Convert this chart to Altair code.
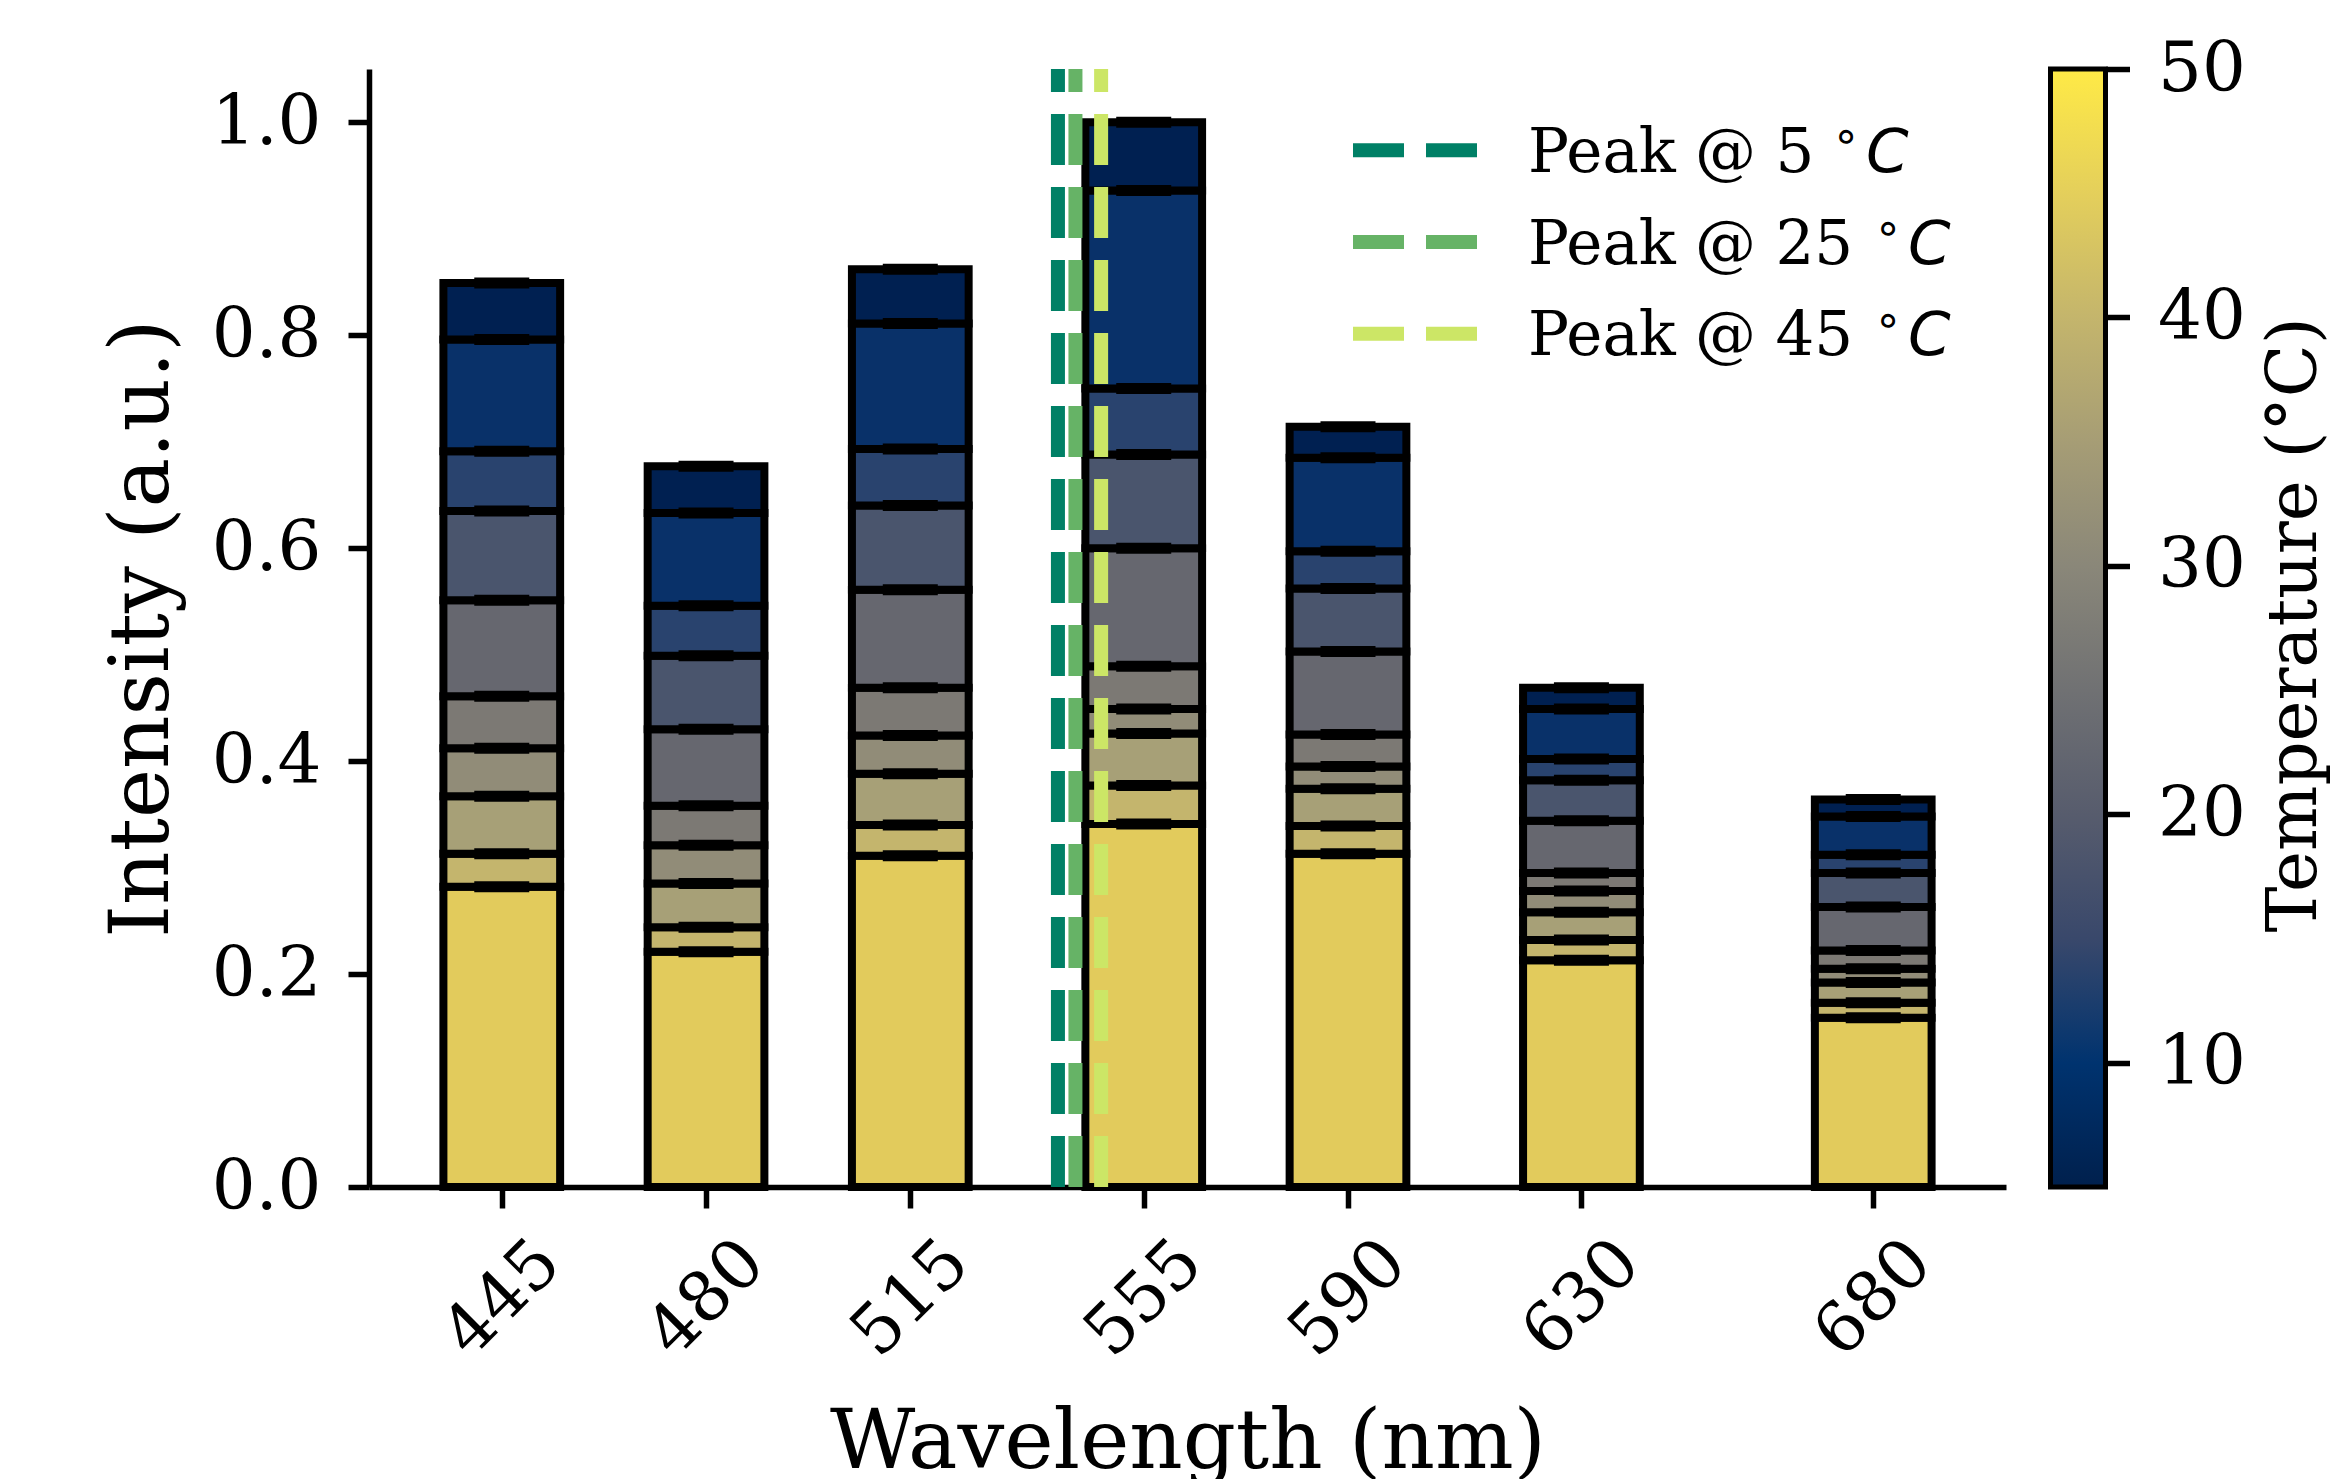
import altair as alt
import pandas as pd

# ---------------- data ----------------
wavelengths = [445, 480, 515, 555, 590, 630, 680]
# stacking order bottom -> top
temperatures = [45.0, 40.6, 36.1, 31.7, 27.2, 22.8, 18.3, 13.9, 9.4, 5.0]

intensity_445 = [0.282, 0.031, 0.054, 0.045, 0.049, 0.090, 0.084, 0.056, 0.105, 0.053]
intensity_480 = [0.221, 0.023, 0.041, 0.036, 0.037, 0.072, 0.069, 0.047, 0.087, 0.044]
intensity_515 = [0.311, 0.029, 0.048, 0.036, 0.045, 0.092, 0.079, 0.053, 0.118, 0.051]
intensity_555 = [0.341, 0.036, 0.049, 0.023, 0.040, 0.111, 0.088, 0.062, 0.186, 0.064]
intensity_590 = [0.313, 0.026, 0.035, 0.021, 0.030, 0.078, 0.059, 0.035, 0.088, 0.029]
intensity_630 = [0.213, 0.019, 0.026, 0.020, 0.017, 0.049, 0.038, 0.020, 0.047, 0.020]
intensity_680 = [0.159, 0.014, 0.019, 0.013, 0.017, 0.041, 0.032, 0.017, 0.036, 0.016]

peak_temps = [5, 25, 45]
peak_wavelengths = [540.3, 543.3, 547.7]
peak_colors = ["#008066", "#66b366", "#cce666"]

y_ticks = [0.0, 0.2, 0.4, 0.6, 0.8, 1.0]
cbar_ticks = [10, 20, 30, 40, 50]
cividis_stops = ["#00204D", "#00336F", "#39486B", "#575C6D", "#707173",
                 "#8A8779", "#A69D75", "#C4B56C", "#E4CF5B", "#FFEA46"]

BAR_WIDTH = 20  # nm
W, H = 1637, 1118
SERIF = "DejaVu Serif"
SANS = "DejaVu Sans"
TICK_FS = 69

series = [intensity_445, intensity_480, intensity_515, intensity_555,
          intensity_590, intensity_630, intensity_680]
rows = []
for wl, seg in zip(wavelengths, series):
    base = 0.0
    for t, v in zip(temperatures, seg):
        rows.append({"wavelength": wl, "temperature": t,
                     "x0": wl - BAR_WIDTH / 2, "x1": wl + BAR_WIDTH / 2,
                     "y0": base, "y1": base + v})
        base += v
df = pd.DataFrame(rows)

peaks_df = pd.DataFrame({"wl": peak_wavelengths, "color": peak_colors,
                         "lo": [0.0] * 3, "hi": [1.05] * 3})

# ---------------- scales / axes ----------------
xscale = alt.Scale(domain=[422.25, 702.75], nice=False, zero=False)
yscale = alt.Scale(domain=[0, 1.05], nice=False, zero=True)

xaxis = alt.Axis(values=wavelengths, title="Wavelength (nm)", labelAngle=315,
                 labelAlign="center", labelBaseline="middle", labelPadding=90,
                 labelFontSize=TICK_FS, labelFont=SERIF, labelOverlap=False,
                 labelFlush=False, tickSize=21, tickWidth=5.5, domainWidth=5.5,
                 titleFontSize=83, titleFont=SERIF, titleX=W / 2, titleY=280,
                 titleBaseline="alphabetic", titleAlign="center")
yaxis = alt.Axis(values=y_ticks, format=".1f", title="Intensity (a.u.)",
                 orient="left", labelFontSize=TICK_FS, labelFont=SERIF,
                 labelPadding=27, labelOverlap=False, labelFlush=False,
                 tickSize=21, tickWidth=5.5, domainWidth=5.5,
                 titleFontSize=83, titleFont=SERIF, titleAngle=270,
                 titleX=-202, titleY=H / 2, titleBaseline="alphabetic",
                 titleAlign="center")

# ---------------- main layers ----------------
bars = alt.Chart(df).mark_rect(stroke="black", strokeWidth=8).encode(
    x=alt.X("x0:Q", scale=xscale, axis=xaxis),
    x2="x1:Q",
    y=alt.Y("y0:Q", scale=yscale, axis=yaxis),
    y2="y1:Q",
    color=alt.Color("temperature:Q",
                    scale=alt.Scale(scheme="cividis", domain=[5, 50]),
                    legend=None),
)

caps = alt.Chart(df).mark_tick(orient="horizontal", size=55, thickness=11,
                               color="black", opacity=1).encode(
    x=alt.X("wavelength:Q", scale=xscale, axis=xaxis),
    y=alt.Y("y1:Q", scale=yscale, axis=yaxis),
)

peak_lines = alt.Chart(peaks_df).mark_rule(strokeDash=[51, 22], strokeWidth=14).encode(
    x=alt.X("wl:Q", scale=xscale, axis=xaxis),
    y=alt.Y("lo:Q", scale=yscale, axis=yaxis),
    y2="hi:Q",
    color=alt.Color("color:N", scale=None),
)

one = alt.Data(values=[{"k": 0}])
legend_layers = []
row_ys = [81.3, 173.0, 264.7]
for i, (t, c) in enumerate(zip(peak_temps, peak_colors)):
    ry = row_ys[i]
    label = f"Peak @ {t}"
    shift = 0 if t < 10 else 42
    legend_layers.append(alt.Chart(one).mark_rule(
        strokeDash=[51, 22], strokeWidth=14, color=c).encode(
        x=alt.value(984), x2=alt.value(1109), y=alt.value(ry)))
    legend_layers.append(alt.Chart(one).mark_text(
        text=label, font=SERIF, fontSize=61, align="left",
        baseline="alphabetic", color="black").encode(
        x=alt.value(1159), y=alt.value(ry + 21.7)))
    legend_layers.append(alt.Chart(one).mark_text(
        text="\u2218", font=SANS, fontSize=45, align="left",
        baseline="alphabetic", color="black").encode(
        x=alt.value(1463 + shift), y=alt.value(ry + 1)))
    legend_layers.append(alt.Chart(one).mark_text(
        text="C", font=SANS, fontStyle="italic", fontSize=61, align="left",
        baseline="alphabetic", color="black").encode(
        x=alt.value(1497 + shift), y=alt.value(ry + 21.7)))

cbar_title = alt.Chart(one).mark_text(
    text="Temperature (°C)", font=SERIF, fontSize=69, angle=270,
    align="center", baseline="middle", color="black").encode(
    x=alt.value(1926), y=alt.value(H / 2 - 3))

main = alt.layer(bars, peak_lines, caps, *legend_layers, cbar_title)

# ---------------- colorbar ----------------
grad = alt.Gradient(
    gradient="linear", x1=0, x2=0, y1=1, y2=0,
    stops=[alt.GradientStop(color=col, offset=i / (len(cividis_stops) - 1))
           for i, col in enumerate(cividis_stops)],
)
cbar = alt.Chart(alt.Data(values=[{"lo": 5, "hi": 50}])).mark_rect(
    fill=grad, stroke="black", strokeWidth=5).encode(
    x=alt.value(1681.5), x2=alt.value(1736.5),
    y=alt.Y("hi:Q", scale=alt.Scale(domain=[5, 50], nice=False, zero=False),
            axis=alt.Axis(orient="right", offset=99.5, values=cbar_ticks,
                          domain=False, tickSize=24, tickWidth=5.5,
                          labelPadding=28, labelFontSize=TICK_FS, labelFont=SERIF,
                          labelFlush=False, labelOverlap=False, title="")),
    y2="lo:Q",
)

chart = alt.layer(main, cbar).resolve_scale(y="independent").properties(
    width=W, height=H,
    autosize=alt.AutoSizeParams(type="none"),
    padding={"left": 361, "top": 61, "right": 327, "bottom": 292},
).configure_axis(
    grid=False, domainColor="black", tickColor="black", labelColor="black",
    titleColor="black", titleFontWeight="normal",
).configure_view(strokeWidth=0)

chart.save("out.html", embed_options={"renderer": "svg", "actions": False})
